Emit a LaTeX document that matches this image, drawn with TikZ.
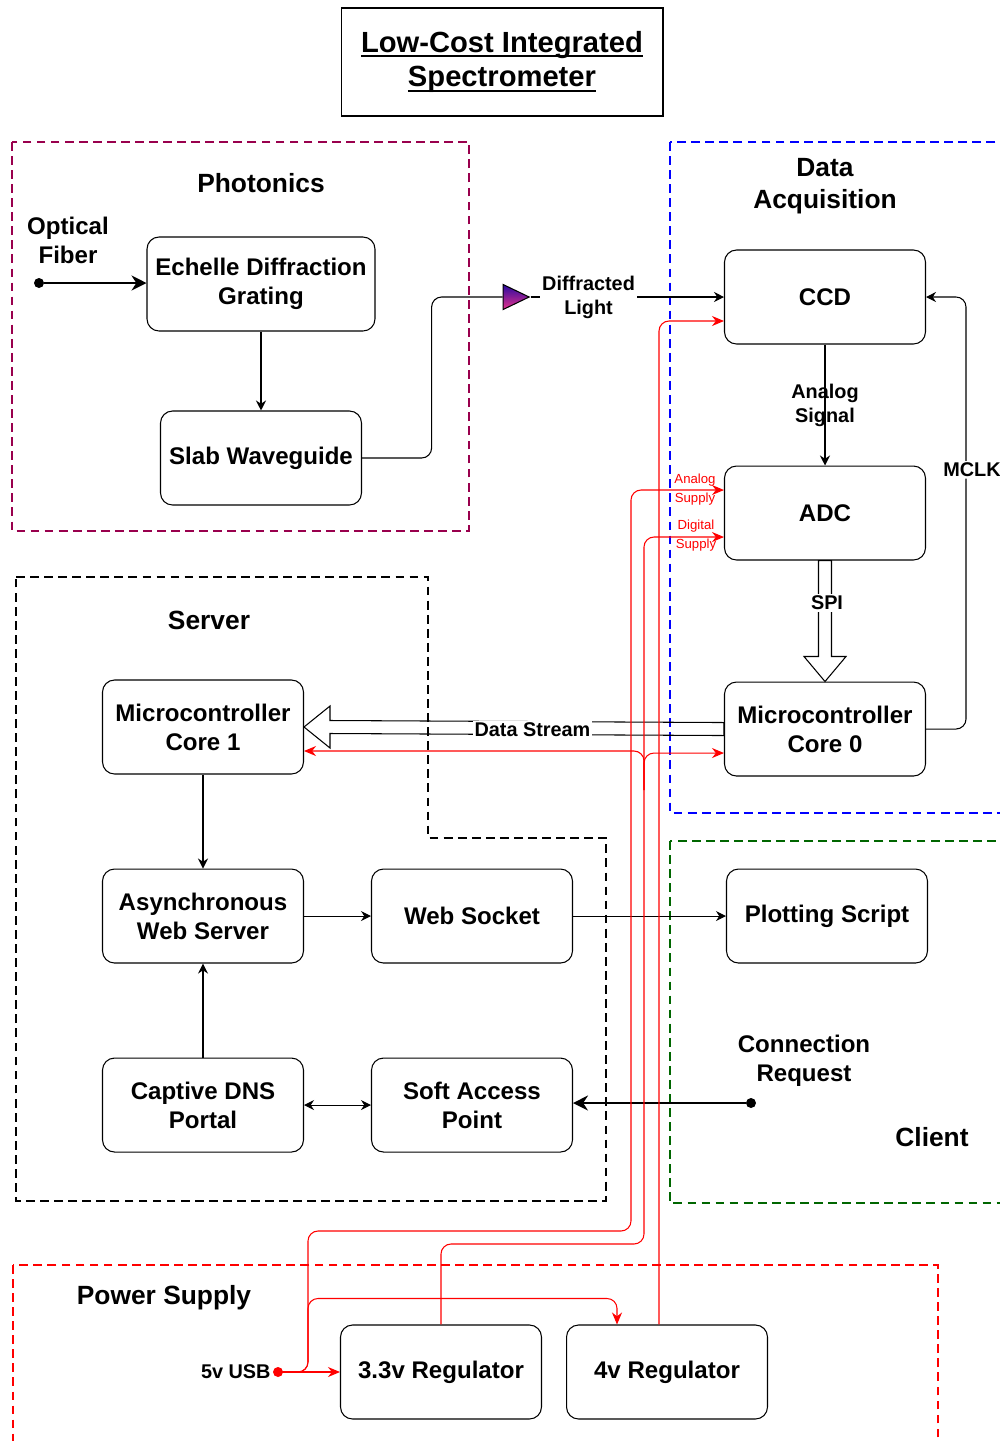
\documentclass[tikz,border=0pt]{standalone}
\usepackage{fontspec}
\setmainfont{Liberation Sans}
\usepackage{tikz}
\usetikzlibrary{positioning, calc, arrows.meta, shapes.geometric}
\definecolor{photonpurple}{RGB}{153,0,77}
\definecolor{acqblue}{RGB}{0,0,255}
\definecolor{clientgreen}{RGB}{0,102,0}
\definecolor{pwrred}{RGB}{255,0,0}
\newcommand{\titleline}[1]{\setbox0\hbox{#1}\rlap{\rule[-3pt]{\wd0}{1.1pt}}\box0}
\tikzset{blk/.style={draw, rounded corners=0.24cm, line width=0.6pt, minimum width=4.02cm, minimum height=1.88cm, inner sep=0pt, align=center, font=\fontsize{13.7}{16.4}\selectfont\bfseries}}
\tikzset{txt/.style={align=center, inner sep=0pt, font=\fontsize{13.7}{16.4}\selectfont\bfseries}}
\tikzset{titlebox/.style={draw, line width=0.6pt, minimum width=6.44cm, minimum height=2.16cm, align=center, font=\fontsize{16.6}{19.8}\selectfont\bfseries}}
\tikzset{grp/.style={line width=1.2pt, dash pattern=on 5pt off 3pt}}
\tikzset{grptitle/.style={align=center, inner sep=0pt, font=\fontsize{15}{18.1}\selectfont\bfseries}}
\tikzset{lbl/.style={align=center, inner sep=1pt, font=\fontsize{11.3}{13.6}\selectfont\bfseries}}
\tikzset{supplylbl/.style={align=center, inner sep=0pt, text=pwrred, font=\fontsize{7.5}{10.8}\selectfont}}
\tikzset{wire/.style={draw, line width=0.6pt}}
\tikzset{arr/.style={wire, -{Stealth[length=0.2cm, width=0.2cm]}}}
\tikzset{arrboth/.style={wire, {Stealth[length=0.2cm, width=0.2cm]}-{Stealth[length=0.2cm, width=0.2cm]}}}
\tikzset{arrthick/.style={draw, line width=1.1pt, -{Stealth[length=0.3cm, width=0.3cm]}}}
\tikzset{hollow/.style={draw, line width=0.6pt}}
\tikzset{pwr/.style={draw=pwrred, line width=0.6pt, rounded corners=0.2cm, -{Stealth[length=0.24cm, width=0.2cm]}}}
\tikzset{dot/.style={circle, fill, inner sep=0pt, minimum size=0.2cm}}

\begin{document}
\begin{tikzpicture}[x=0.02cm, y=-0.02cm]
	\useasboundingbox (0,0) rectangle (1000,1441);
	% group frames
	\draw[grp, draw=photonpurple] (12,142) rectangle (469,531);
	\draw[grp, draw=acqblue] (670,142) rectangle (1012,813);
	\draw[grp, draw=black] (16,577) -- (428,577) -- (428,838) -- (606,838) -- (606,1201) -- (16,1201) -- cycle;
	\draw[grp, draw=clientgreen] (670,841) rectangle (1012,1203);
	\draw[grp, draw=pwrred] (13,1265) rectangle (938,1465);
	%
	\node[titlebox] (title) at (502,62) {\titleline{Low-Cost Integrated}\\\titleline{Spectrometer}};
	\node[grptitle] (photonics) at (261,183) {Photonics};
	\node[grptitle] (acq) at (825,186) {Data\\Acquisition};
	\node[grptitle] (server) at (209,620) {Server};
	\node[grptitle] (client) at (932,1137) {Client};
	\node[grptitle] (power) at (164,1298) {Power Supply};
	%
	\node[blk, minimum width=4.56cm] (ech) at (261,284) {Echelle Diffraction\\Grating};
	\node[blk] (slab) at (261,458) {Slab Waveguide};
	\node[dot] (fiber) at (39,283) {};
	\node[txt] (fiberlbl) at (68,240) {Optical\\Fiber};
	\node[isosceles triangle, isosceles triangle stretches, draw, line width=0.6pt, inner sep=0pt,
		minimum height=0.52cm, minimum width=0.5cm,
		top color={rgb,255:red,40;green,10;blue,160}, bottom color={rgb,255:red,230;green,50;blue,140}] (beam) at (511,297) {};
	%
	\node[blk] (ccd) at (825,297) {CCD};
	\node[blk, below=2.42cm of ccd] (adc) {ADC};
	\node[blk, below=2.42cm of adc] (mcu0) {Microcontroller\\Core 0};
	%
	\node[blk] (mcu1) at (203,727) {Microcontroller\\Core 1};
	\node[blk, below=1.88cm of mcu1] (async) {Asynchronous\\Web Server};
	\node[blk, below=1.88cm of async] (dns) {Captive DNS\\Portal};
	\node[blk, right=1.34cm of async] (socket) {Web Socket};
	\node[blk, right=1.34cm of dns] (softap) {Soft Access\\Point};
	\node[blk, right=3.06cm of socket] (plotter) {Plotting Script};
	\node[dot] (conn) at (751,1103) {};
	\node[txt] (connlbl) at (804,1061) {Connection\\Request};
	%
	\node[blk] (reg33) at (441,1372) {3.3v Regulator};
	\node[blk, right=0.48cm of reg33] (reg4) {4v Regulator};
	\node[dot, fill=pwrred] (usb) at (278,1372) {};
	\node[lbl, anchor=east] (usblbl) at (usb.west) {5v USB};
	\coordinate (usbtee) at (308,1372);
	\coordinate (split) at (644,790);
	%
	\draw[arrthick] (fiber) -- (fiber -| ech.west);
	\draw[arr] (ech) -- (slab);
	\draw[wire, rounded corners=0.2cm] (slab.east) -| ($(beam.west)+(-71,0)$) -- (beam.west);
	\draw[arr] (beam) -- (ccd) node[lbl, fill=white, pos=0.3] {Diffracted\\Light};
	\draw[arr] (ccd) -- (adc) node[lbl, midway] {Analog\\Signal};
	\draw[hollow] ($(adc.south)+(-6.5,0)$) -- ($(mcu0.north)+(-6.5,-25)$) -- ($(mcu0.north)+(-21,-25)$) -- (mcu0.north)
		-- ($(mcu0.north)+(21,-25)$) -- ($(mcu0.north)+(6.5,-25)$) -- ($(adc.south)+(6.5,0)$) -- cycle;
	\node[lbl, fill=white] (spi) at ($(adc.south)!0.35!(mcu0.north)+(2,0)$) {SPI};
	\draw[arr, rounded corners=0.2cm] (mcu0.east) -- ++(40,0) |- (ccd.east) node[lbl, fill=white, pos=0.3, xshift=0.12cm] {MCLK};
	\draw[hollow] ($(mcu0.west)+(0,-6.5)$) -- ($(mcu1.east)+(26,-6.5)$) -- ($(mcu1.east)+(26,-21)$) -- (mcu1.east)
		-- ($(mcu1.east)+(26,21)$) -- ($(mcu1.east)+(26,6.5)$) -- ($(mcu0.west)+(0,6.5)$) -- cycle;
	\node[lbl, fill=white] (dstream) at ($(mcu1.east)!0.544!(mcu0.west)+(0,1.5)$) {Data Stream};
	%
	\draw[arr] (mcu1) -- (async);
	\draw[arr] (async) -- (socket);
	\draw[arr] (socket) -- (plotter);
	\draw[arr] (dns) -- (async);
	\draw[arrboth] (dns) -- (softap);
	\draw[arrthick] (conn) -- (conn -| softap.east);
	% supply lines
	\draw[pwr] (usb) -- (reg33);
	\draw[pwr] (usb.center) -- (usbtee) |- (631,1231) |- ($(adc.west)+(0,-23)$);
	\draw[pwr] (usb.center) -- (usbtee) |- ($(reg4.north)+(-50,-26)$) -- ($(reg4.north)+(-50,0)$);
	\draw[pwr] (reg33.north) |- (644,1244) |- ($(adc.west)+(0,24)$);
	\draw[pwr] (split) |- ($(mcu1.east)+(0,24)$);
	\draw[pwr] (split) |- ($(mcu0.west)+(0,24)$);
	\draw[pwr] ($(reg4.north)+(-8,0)$) |- ($(ccd.west)+(0,24)$);
	\node[supplylbl] (asup) at ($(adc.west)+(-29,-23)$) {Analog\\Supply};
	\node[supplylbl] (dsup) at ($(adc.west)+(-28,23)$) {Digital\\Supply};
\end{tikzpicture}
\end{document}
